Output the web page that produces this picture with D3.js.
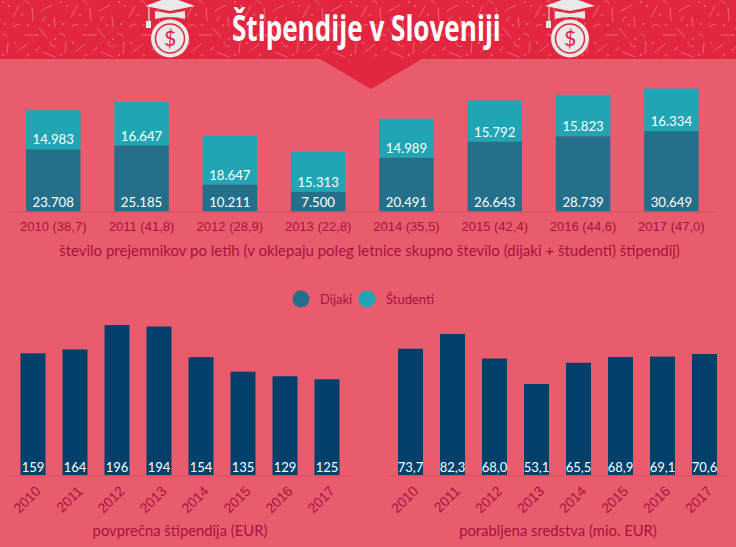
<!DOCTYPE html>
<html>
<head>
<meta charset="utf-8">
<script src="https://d3js.org/d3.v7.min.js"></script>
<style>
html, body {margin:0; padding:0; background:#e85c6e;}
svg {display:block; font-family:"Lato", sans-serif;}
.lbl {fill:#a8123f;}
</style>
</head>
<body>
<div id="vis"></div>
<script>
const FRAME_WIDTH = 736;
const FRAME_HEIGHT = 547;

const years = ["2010","2011","2012","2013","2014","2015","2016","2017"];
const yearTotals = ["38,7","41,8","28,9","22,8","35,5","42,4","44,6","47,0"];
const dijaki = [23708,25185,10211,7500,20491,26643,28739,30649];
const studenti = [14983,16647,18647,15313,14989,15792,15823,16334];
const avgGrant = [159,164,196,194,154,135,129,125];
const funds = [73.7,82.3,68.0,53.1,65.5,68.9,69.1,70.6];
const legendNames = ["Dijaki","Študenti"];

const fmtThousands = (d) => d3.format(",")(d).replace(",", ".");
const fmtComma = (d) => d3.format(".1f")(d).replace(".", ",");

const svg = d3.select("#vis").append("svg")
	.attr("width", FRAME_WIDTH)
	.attr("height", FRAME_HEIGHT);

// confetti tile for the header
const pat = svg.append("defs").append("pattern")
	.attr("id", "confetti")
	.attr("patternUnits", "userSpaceOnUse")
	.attr("width", 58).attr("height", 58);
pat.append("path")
	.attr("d", "M13 17L19 6M32 8L33 21M41 11L52 5M54 17L55 27M25 35L38 35M39 28L47 38M8 42L7 53M17 52L27 44M43 52L55 57M25 1a3 3 0 0 1 4 3M43 21a3 3 0 0 1 3 -4M14 27a4 4 0 0 1 6 -2M2 34a4 4 0 0 1 5 3M50 42a4 4 0 0 0 6 4M36 50a3 3 0 0 0 3 -3")
	.attr("fill", "none")
	.attr("stroke", "#ec6a7b")
	.attr("stroke-width", 0.9)
	.attr("stroke-linecap", "round");
pat.selectAll("circle")
	.data([[3,2],[9,6],[22,15],[5,24],[28,25],[55,39],[15,43],[28,55],[3,55],[49,25]])
	.enter().append("circle")
	.attr("cx", (d) => d[0]).attr("cy", (d) => d[1]).attr("r", 0.9)
	.attr("fill", "#ec6a7b");

svg.append("rect").attr("width", FRAME_WIDTH).attr("height", 59).attr("fill", "#e2263f");
svg.append("rect").attr("width", FRAME_WIDTH).attr("height", 59).attr("fill", "url(#confetti)");
svg.append("path").attr("d", "M320 59L371 89L422 59Z").attr("fill", "#e2263f");

// graduation cap + coin
function icon(cx) {
	const g = svg.append("g").attr("transform", `translate(${cx},0)`);
	g.append("circle").attr("cy", 38.5).attr("r", 19).attr("fill", "#e8e8e8");
	g.append("circle").attr("cy", 38.5).attr("r", 14.5).attr("fill", "none").attr("stroke", "#e2263f").attr("stroke-width", 1.5);
	g.append("text").attr("y", 45.5).attr("text-anchor", "middle").attr("font-size", 21)
		.attr("fill", "#e2263f").text("$");
	g.append("path").attr("d", "M-25 6L0 -3L25 6L0 11Z").attr("fill", "#e8e8e8");
	g.append("path").attr("d", "M-15 11L0 13.5L15 11L15 19Q0 15 -15 19Z").attr("fill", "#e8e8e8");
	g.append("path").attr("d", "M-21 7L-21 22").attr("stroke", "#e8e8e8").attr("stroke-width", 1);
	g.append("rect").attr("x", -24).attr("y", 21).attr("width", 5).attr("height", 7).attr("fill", "#e8e8e8");
}
icon(170);
icon(570);

// title squeezed to the narrow width of the original
const title = svg.append("text")
	.attr("font-family", "'Open Sans', sans-serif")
	.attr("font-weight", 700)
	.attr("font-size", 35)
	.attr("fill", "#fff")
	.text("Štipendije v Sloveniji");
title.attr("transform", `translate(232,41) scale(${269 / title.node().getComputedTextLength()},1)`);

// stacked chart
const x1 = d3.scaleBand().domain(years).range([9, 715.6]).paddingInner(0.383).paddingOuter(0.1925);
const y1 = d3.scaleLinear().domain([0, 46983]).range([211.5, 88.5]);

const stack = years.map((y, i) => ({year:y, dijaki:dijaki[i], studenti:studenti[i]}));

svg.append("g").selectAll("rect").data(stack).enter().append("rect")
	.attr("x", (d) => x1(d.year))
	.attr("width", x1.bandwidth())
	.attr("y", (d) => y1(d.dijaki + d.studenti))
	.attr("height", (d) => y1(d.dijaki) - y1(d.dijaki + d.studenti))
	.attr("fill", "#1fa5b4");
svg.append("g").selectAll("rect").data(stack).enter().append("rect")
	.attr("x", (d) => x1(d.year))
	.attr("width", x1.bandwidth())
	.attr("y", (d) => y1(d.dijaki))
	.attr("height", (d) => y1(0) - y1(d.dijaki))
	.attr("fill", "#24708b");

svg.append("g").selectAll("text").data(stack).enter().append("text")
	.attr("x", (d) => x1(d.year) + x1.bandwidth() / 2)
	.attr("y", 207)
	.attr("text-anchor", "middle").attr("font-size", 13.2).attr("fill", "#fff")
	.text((d) => fmtThousands(d.dijaki));
svg.append("g").selectAll("text").data(stack).enter().append("text")
	.attr("x", (d) => x1(d.year) + x1.bandwidth() / 2)
	.attr("y", (d) => y1(d.dijaki) - 5)
	.attr("text-anchor", "middle").attr("font-size", 13.2).attr("fill", "#fff")
	.text((d) => fmtThousands(d.studenti));

const axis1 = d3.axisBottom(x1).tickSize(0).tickPadding(10)
	.tickFormat((d, i) => `${d} (${yearTotals[i]})`);
const gx1 = svg.append("g").attr("transform", "translate(0,211.5)").call(axis1);
gx1.select(".domain").attr("stroke", "#df4a5e");
gx1.selectAll("text").attr("class", "lbl").attr("font-size", 13).attr("font-family", null);

svg.append("text").attr("class", "lbl")
	.attr("x", 369.5).attr("y", 256).attr("text-anchor", "middle").attr("font-size", 15)
	.text("število prejemnikov po letih (v oklepaju poleg letnice skupno število (dijaki + študenti) štipendij)");

// legend
const legendX = d3.scalePoint().domain(legendNames).range([301, 367]);
const legendColor = d3.scaleOrdinal().domain(legendNames).range(["#24708b", "#1fa5b4"]);
const leg = svg.append("g").selectAll("g").data(legendNames).enter().append("g")
	.attr("transform", (d) => `translate(${legendX(d)},299)`);
leg.append("circle").attr("r", 8.5).attr("fill", (d) => legendColor(d));
leg.append("text").attr("class", "lbl").attr("x", 19).attr("y", 4.5).attr("font-size", 13).text((d) => d);

// small bar charts
function barChart(values, range, scaleMax, top, fmt, title, titleX) {
	const x = d3.scaleBand().domain(years).range(range).paddingInner(0.405).paddingOuter(0.25);
	const y = d3.scaleLinear().domain([0, scaleMax]).range([475, top]);
	const g = svg.append("g");
	g.selectAll("rect").data(values).enter().append("rect")
		.attr("x", (d, i) => x(years[i]))
		.attr("width", x.bandwidth())
		.attr("y", (d) => y(d))
		.attr("height", (d) => y(0) - y(d))
		.attr("fill", "#00406b");
	g.selectAll("text.val").data(values).enter().append("text")
		.attr("class", "val")
		.attr("x", (d, i) => x(years[i]) + x.bandwidth() / 2)
		.attr("y", 472)
		.attr("text-anchor", "middle").attr("font-size", 13).attr("fill", "#fff")
		.text(fmt);
	const gx = g.append("g").attr("transform", "translate(0,475.5)").call(d3.axisBottom(x).tickSize(0));
	gx.select(".domain").attr("stroke", "#df4a5e");
	gx.selectAll("text")
		.attr("class", "lbl")
		.attr("font-size", 14).attr("font-family", null)
		.attr("text-anchor", "end")
		.attr("y", 0).attr("dy", "0.35em")
		.attr("transform", "translate(5,13) rotate(-45)");
	svg.append("text").attr("class", "lbl")
		.attr("x", titleX).attr("y", 536).attr("text-anchor", "middle").attr("font-size", 14.8)
		.text(title);
}
barChart(avgGrant, [10, 350], 196, 325, (d) => d, "povprečna štipendija (EUR)", 180);
barChart(funds, [387.5, 727.5], 82.3, 334, fmtComma, "porabljena sredstva (mio. EUR)", 558);
</script>
</body>
</html>
